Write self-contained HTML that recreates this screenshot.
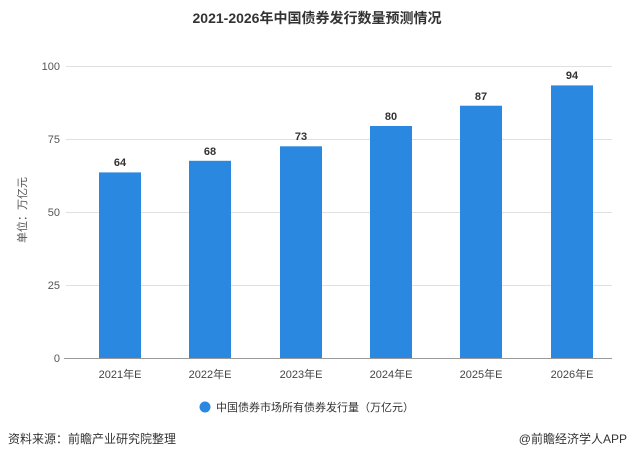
<!DOCTYPE html>
<html><head><meta charset="utf-8"><style>
body{margin:0;background:#fff;width:634px;height:462px;overflow:hidden;font-family:"Liberation Sans","Noto Sans CJK SC",sans-serif;}
</style></head><body>
<svg width="634" height="462" xmlns="http://www.w3.org/2000/svg" font-family="Liberation Sans, Noto Sans CJK SC, sans-serif">
<text x="317" y="23" text-anchor="middle" font-size="14" font-weight="bold" fill="#333">2021-2026年中国债券发行数量预测情况</text>
<g stroke="#e0e0e0" stroke-width="1">
<line x1="66" y1="66.5" x2="612" y2="66.5"/>
<line x1="66" y1="139.5" x2="612" y2="139.5"/>
<line x1="66" y1="212.5" x2="612" y2="212.5"/>
<line x1="66" y1="285.5" x2="612" y2="285.5"/>
</g>
<line x1="64" y1="358.5" x2="612" y2="358.5" stroke="#999"/>
<g font-size="11" fill="#555" text-anchor="end">
<text x="60" y="70">100</text><text x="60" y="143">75</text><text x="60" y="216">50</text><text x="60" y="289">25</text><text x="60" y="362">0</text>
</g>
<text transform="translate(26,210) rotate(-90)" text-anchor="middle" font-size="11" fill="#555">单位：万亿元</text>
<g fill="#2b88e0">
<rect x="99" y="172.4" width="42" height="185.6"/>
<rect x="189" y="160.8" width="42" height="197.2"/>
<rect x="280" y="146.3" width="42" height="211.7"/>
<rect x="370" y="126" width="42" height="232"/>
<rect x="460" y="105.7" width="42" height="252.3"/>
<rect x="551" y="85.4" width="42" height="272.6"/>
</g>
<g font-size="11" font-weight="bold" fill="#333" text-anchor="middle">
<text x="120" y="166">64</text><text x="210" y="155">68</text><text x="301" y="140">73</text><text x="391" y="120">80</text><text x="481" y="100">87</text><text x="572" y="79">94</text>
</g>
<g font-size="11" fill="#444" text-anchor="middle">
<text x="120" y="378">2021年E</text><text x="210" y="378">2022年E</text><text x="301" y="378">2023年E</text><text x="391" y="378">2024年E</text><text x="481" y="378">2025年E</text><text x="572" y="378">2026年E</text>
</g>
<circle cx="205" cy="407" r="5.5" fill="#2b88e0"/>
<text x="216" y="411" font-size="11" fill="#333">中国债券市场所有债券发行量（万亿元）</text>
<text x="8" y="443" font-size="12" fill="#333">资料来源：前瞻产业研究院整理</text>
<text x="627" y="443" font-size="12" fill="#333" text-anchor="end">@前瞻经济学人APP</text>
</svg>
</body></html>
